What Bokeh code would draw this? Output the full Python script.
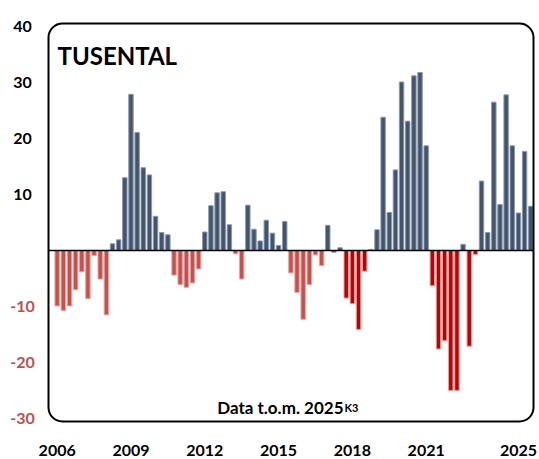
from bokeh.plotting import figure
from bokeh.models import ColumnDataSource, LabelSet, Label, BoxAnnotation, Range1d
from bokeh.core.properties import value
from bokeh.embed import file_html
from bokeh.resources import INLINE

# ---------------- data ----------------
years = list(range(2006, 2026))
quarters = [f"{y}K{q}" for y in years for q in range(1, 5)][:78]  # 2006K1 .. 2025K2

values = [
    -9.9, -10.7, -9.9, -7.0, -3.8, -8.6, -0.9, -5.1,      # 2006-2007
    -11.5, 1.2, 1.9, 13.0,                                # 2008
    27.9, 21.1, 14.8, 13.5,                               # 2009
    6.1, 3.2, 2.8, -4.4,                                  # 2010
    -6.1, -6.6, -5.8, -3.3,                               # 2011
    3.3, 8.0, 10.3, 10.5,                                 # 2012
    4.6, -0.6, -5.1, 8.1,                                 # 2013
    3.8, 1.7, 5.4, 3.1,                                   # 2014
    0.9, 5.2, -4.0, -7.5,                                 # 2015
    -12.3, -6.1, -0.8, -2.7,                              # 2016
    4.5, -0.3, 0.5, -8.5,                                 # 2017
    -9.5, -14.1, -3.7, 0.2,                               # 2018
    3.7, 23.8, 6.8, 14.4,                                 # 2019
    30.1, 23.1, 31.2, 31.8,                               # 2020
    18.7, -6.3, -17.6, -16.1,                             # 2021
    -25.0, -25.0, 1.1, -17.1,                             # 2022
    -0.7, 12.4, 3.2, 26.5,                                # 2023
    8.2, 27.8, 18.7, 6.7,                                 # 2024
    17.7, 7.9,                                            # 2025
]

tick_years = [2006, 2009, 2012, 2015, 2018, 2021, 2025]
ytick_vals = [40, 30, 20, 10, -10, -20, -30]
ytick_labels = [str(v) for v in ytick_vals]
title_text = "TUSENTAL"
note_text = "Data t.o.m. 2025"
note_sub = "K3"
red_start = quarters.index("2017K4")

# ---------------- styles / layout ----------------
BLUE, BLUE_EDGE = "#44546A", "#8A9AB2"
LRED, LRED_EDGE = "#C8504C", "#E8A4A2"
RED, RED_EDGE = "#C00000", "#EE9A9A"
FONT = "Lato"

W, H = 539, 459
BOX_L, BOX_R = 48, 533            # pixel edges of the rounded box
BOX_T, BOX_B = 23, 421
box_x0, box_x1 = -1.41, 77.45     # data edges of the rounded box
box_y0, box_y1 = -30.55, 40.55
ppx = (BOX_R - BOX_L) / (box_x1 - box_x0)
ppu = (BOX_B - BOX_T) / (box_y1 - box_y0)
x_start = box_x0 - BOX_L / ppx
x_end = box_x1 + (W - BOX_R) / ppx
y_end = box_y1 + BOX_T / ppu
y_start = box_y0 - (H - BOX_B) / ppu

idx = list(range(len(values)))
fills, edges = [], []
for i, v in enumerate(values):
    if v > -0.5:
        fills.append(BLUE); edges.append(BLUE_EDGE)
    elif i < red_start:
        fills.append(LRED); edges.append(LRED_EDGE)
    else:
        fills.append(RED); edges.append(RED_EDGE)

src = ColumnDataSource(dict(x=idx, top=values, fill=fills, edge=edges, q=quarters))

p = figure(width=W, height=H, output_backend="svg", toolbar_location=None,
           x_range=Range1d(x_start, x_end), y_range=Range1d(y_start, y_end),
           min_border_left=0, min_border_right=0,
           min_border_top=0, min_border_bottom=0)
p.outline_line_color = None
p.grid.visible = False
p.xaxis.visible = False
p.yaxis.visible = False
p.background_fill_color = "white"
p.border_fill_color = "white"

p.vbar(x="x", top="top", bottom=0, width=0.72, source=src,
       fill_color="fill", line_color="edge", line_width=1)

# zero line across the box
p.segment(x0=[box_x0], x1=[box_x1], y0=[0], y1=[0], line_color="black", line_width=1.6)

# rounded frame
p.add_layout(BoxAnnotation(left=box_x0, right=box_x1, bottom=box_y0, top=box_y1,
                           fill_alpha=0, line_color="black", line_alpha=1,
                           line_width=2, border_radius=14))

# y tick labels (black positive, red negative)
ycolors = ["#000000" if v > 0 else "#C0504D" for v in ytick_vals]
ysrc = ColumnDataSource(dict(x=[box_x0] * len(ytick_vals), y=ytick_vals,
                             text=ytick_labels, color=ycolors))
p.add_layout(LabelSet(x="x", y="y", text="text", source=ysrc, x_offset=-26,
                      text_color="color", text_align="center", text_baseline="middle",
                      text_font=value(FONT), text_font_style="bold",
                      text_font_size="16px"))

# x tick labels (year at Q1, last one kept inside the page)
label_edge = 21 / ppx
xt = []
for y in tick_years:
    t = quarters.index(f"{y}K1")
    xt.append(min(t, x_end - label_edge))
xsrc = ColumnDataSource(dict(x=xt, y=[box_y0 - 29 / ppu] * len(xt),
                             text=[str(y) for y in tick_years]))
p.add_layout(LabelSet(x="x", y="y", text="text", source=xsrc,
                      text_color="black", text_align="center", text_baseline="middle",
                      text_font=value(FONT), text_font_style="bold",
                      text_font_size="16px"))

# title inside the frame
p.add_layout(Label(x=box_x0, y=box_y1 - 32 / ppu, x_offset=9, text=title_text,
                   text_font=FONT, text_font_style="bold", text_font_size="24px",
                   text_baseline="alphabetic", text_align="left", text_color="black"))

# footnote with subscript
nx = box_x0 + (343 - BOX_L) / ppx
ny = box_y0 + 14 / ppu
p.add_layout(Label(x=nx, y=ny, text=note_text, text_font=FONT, text_font_style="bold",
                   text_font_size="17px", text_align="right", text_baseline="alphabetic",
                   text_color="black"))
p.add_layout(Label(x=nx, y=ny, x_offset=1, text=note_sub, text_font=FONT,
                   text_font_style="bold", text_font_size="11px", text_align="left",
                   text_baseline="alphabetic", text_color="black"))

open("out.html", "w").write(file_html(p, INLINE))
